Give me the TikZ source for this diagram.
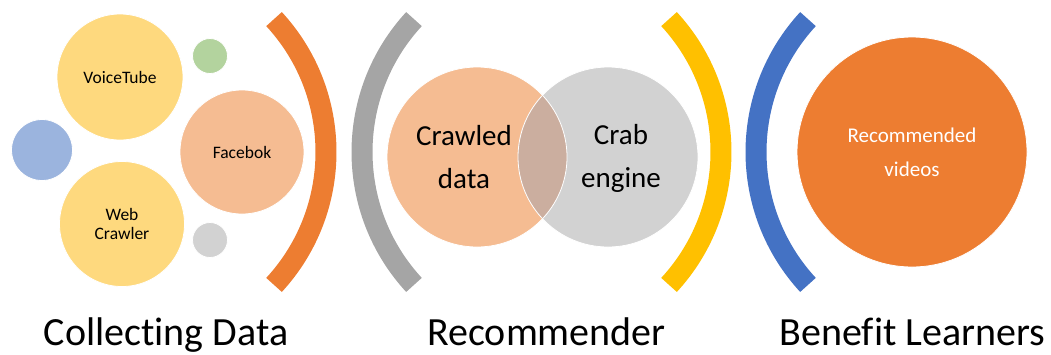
\documentclass[tikz,border=0pt]{standalone}
\usepackage{fontspec}
\setmainfont{Carlito}[RawFeature={-liga}]
\definecolor{cYellow}{HTML}{FED97E}
\definecolor{cLOrange}{HTML}{F5BC92}
\definecolor{cLBlue}{HTML}{9BB4DE}
\definecolor{cLGreen}{HTML}{B3D39E}
\definecolor{cLGray}{HTML}{D2D2D2}
\definecolor{cOverlap}{HTML}{CBAE9F}
\definecolor{cOrange}{HTML}{ED7D31}
\definecolor{cGray}{HTML}{A5A5A5}
\definecolor{cGold}{HTML}{FFC000}
\definecolor{cBlue}{HTML}{4472C4}
\tikzset{
  bubble/.style={circle, draw=white, line width=0.8pt, inner sep=0pt, align=center, text=black},
  small/.style={font=\fontsize{17.5}{18.5}\selectfont},
  venn/.style={align=center, text=black, inner sep=0pt, font=\fontsize{29}{43}\selectfont},
  band/.style={line width=21pt, line cap=butt},
  caption/.style={anchor=base, inner sep=0pt, text=black, font=\fontsize{40}{48}\selectfont}
}
\begin{document}
\begin{tikzpicture}[x=1pt, y=-1pt]
\useasboundingbox (0,0) rectangle (1051,354);
% left group
\node[bubble, small, fill=cYellow, minimum size=126pt] (voice) at (120,77) {VoiceTube};
\node[bubble, fill=cLBlue, minimum size=61pt] (blue) at (42,150) {};
\node[bubble, small, fill=cYellow, minimum size=125pt] (web) at (122,224) {Web\\Crawler};
\node[bubble, small, fill=cLOrange, minimum size=124pt] (face) at (242,152) {Facebok};
\node[bubble, fill=cLGreen, minimum size=35pt] (green) at (210,56) {};
\node[bubble, fill=cLGray, minimum size=35pt] (gray) at (210,240) {};
% arcs
\draw[band, cOrange] (130,152) ++(-42.7:196) arc[start angle=-42.7, end angle=42.7, radius=196];
\draw[band, cGray] (558,152) ++(137.3:196) arc[start angle=137.3, end angle=222.7, radius=196];
\draw[band, cGold] (525,152) ++(-42.7:196) arc[start angle=-42.7, end angle=42.7, radius=196];
\draw[band, cBlue] (952,152) ++(137.3:196) arc[start angle=137.3, end angle=222.7, radius=196];
% venn
\node[circle, inner sep=0pt, minimum size=180pt, fill=cLOrange] (crawl) at (477,157) {};
\node[circle, inner sep=0pt, minimum size=180pt, fill=cLGray] (crab) at (608,157) {};
\begin{scope}
  \clip (477,157) circle (90);
  \fill[cOverlap] (608,157) circle (90);
\end{scope}
\draw[white, line width=0.8pt] (crawl.center) circle (90);
\draw[white, line width=0.8pt] (crab.center) circle (90);
\node[venn] (crawltext) at (464,157) {Crawled\\data};
\node[venn] (crabtext) at (621,158) {Crab\\engine};
% result
\node[bubble, fill=cOrange, minimum size=230pt, text=white, font=\fontsize{21}{34}\selectfont] (rec) at (912,152) {Recommended\\videos};
% captions
\node[caption] (cap1) at (166,345) {Collecting Data};
\node[caption] (cap2) at (546.5,345) {Recommender};
\node[caption] (cap3) at (912.5,345) {Benefit Learners};
\end{tikzpicture}
\end{document}
